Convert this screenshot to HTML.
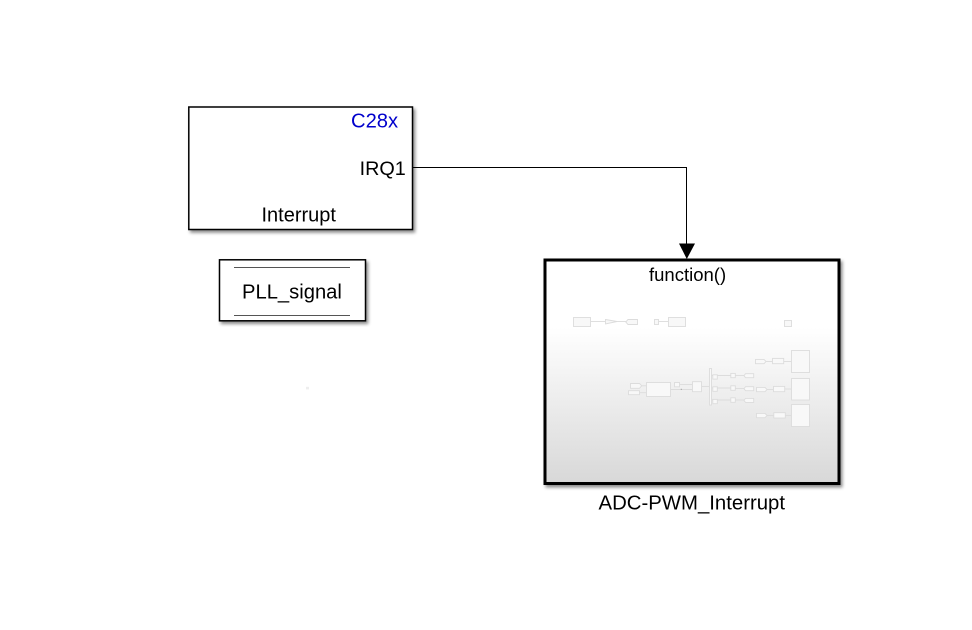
<!DOCTYPE html>
<html><head><meta charset="utf-8"><style>
html,body{margin:0;padding:0;background:#fff}
svg{display:block}
text{font-family:"Liberation Sans",Arial,sans-serif;fill:#000}
text.blue{fill:#0000cc}
.m rect,.m path,.m line{fill:#f8f8f8;stroke:#dcdcdc;stroke-width:.9}
.m line{fill:none}
</style></head><body>
<svg width="972" height="630" viewBox="0 0 972 630" xmlns="http://www.w3.org/2000/svg">
<defs>
<linearGradient id="g" x1="0" y1="0" x2="0" y2="1">
<stop offset="0" stop-color="#fff"/><stop offset=".3" stop-color="#fff"/><stop offset="1" stop-color="#d8d8d8"/>
</linearGradient>
<filter id="s" x="-5%" y="-5%" width="112%" height="115%"><feDropShadow dx="2" dy="2.5" stdDeviation="1.5" flood-color="#000" flood-opacity=".45"/></filter>
</defs>
<rect width="972" height="630" fill="#fff"/>

<rect x="188.8" y="107" width="223.7" height="122.5" fill="#fff" stroke="#000" stroke-width="1.5" filter="url(#s)"/>
<text class="blue" x="351" y="127.5" font-size="20.2">C28x</text>
<text x="359.6" y="175" font-size="19.8">IRQ1</text>
<text x="261.5" y="221.7" font-size="20">Interrupt</text>

<rect x="219.5" y="259.8" width="146" height="61" fill="#fff" stroke="#000" stroke-width="1.5" filter="url(#s)"/>
<line x1="234" y1="267.5" x2="350" y2="267.5" stroke="#555" stroke-width="1"/>
<line x1="234" y1="315.5" x2="350" y2="315.5" stroke="#555" stroke-width="1"/>
<text x="242" y="298.3" font-size="20.2">PLL_signal</text>

<rect x="545" y="260" width="294" height="223.5" fill="url(#g)" stroke="#000" stroke-width="3" filter="url(#s)"/>
<path d="M412.5 167.5H686.5V244" fill="none" stroke="#000" stroke-width="1"/>
<path d="M679 243.5H695L686.8 259Z" fill="#000"/>
<text x="649" y="281" font-size="18.5">function()</text>
<text x="598.5" y="509.5" font-size="20.35">ADC-PWM_Interrupt</text>

<g class="m">
<line x1="590.7" y1="321.5" x2="605" y2="321.5"/><line x1="617" y1="321.5" x2="626" y2="321.5"/><line x1="658.7" y1="321.5" x2="668" y2="321.5"/>
<rect x="573.5" y="317.5" width="17" height="9"/>
<path d="M605.5 319.5L617 321.5L605.5 324Z"/>
<path d="M628 319.5H637.5V324.5H628L625.8 322Z"/>
<rect x="654.5" y="319.5" width="4" height="5"/>
<rect x="668.5" y="317.5" width="17" height="9"/>
<rect x="784.5" y="320.5" width="7" height="6"/>

<line x1="641.7" y1="385.8" x2="646.5" y2="385.8"/><line x1="639.7" y1="392.7" x2="646.5" y2="392.7"/>
<line x1="670.3" y1="389.5" x2="692.5" y2="389.5"/><line x1="679.3" y1="384.5" x2="692.5" y2="384.5"/>
<line x1="701.3" y1="386.5" x2="709.5" y2="386.5"/>
<path d="M630.5 383.5H639.5L641.7 385.8L639.5 388.3H630.5Z"/>
<rect x="628.5" y="390.7" width="11" height="4"/>
<rect x="646.5" y="382.5" width="24" height="14"/>
<rect x="674.5" y="382.5" width="5" height="4.3"/>
<rect x="692.5" y="381.7" width="9" height="10"/>
<rect x="709.5" y="368.5" width="2" height="36.5"/>

<line x1="711.3" y1="375.5" x2="730.7" y2="375.5"/><line x1="711.3" y1="388" x2="730.7" y2="388"/><line x1="711.3" y1="400" x2="730.7" y2="400"/>
<line x1="735.3" y1="375.5" x2="744" y2="375.5"/><line x1="735.3" y1="388.5" x2="744" y2="388.5"/><line x1="735.3" y1="400" x2="744" y2="400"/>
<rect x="712.8" y="374.8" width="4.5" height="4.3"/><rect x="712.8" y="386.8" width="4.5" height="4.5"/><rect x="712.8" y="399.4" width="4.5" height="4.3"/>
<rect x="730.8" y="373.4" width="4.5" height="4.3"/><rect x="730.8" y="385.8" width="4.5" height="4.5"/><rect x="730.8" y="397.8" width="4.5" height="4.5"/>
<path d="M745.5 373.7H753.7V377.7H745.5L744 375.7Z"/><path d="M745.5 386.7H753.7V390.7H745.5L744 388.7Z"/><path d="M745.5 398.4H753.7V402.4H745.5L744 400.4Z"/>

<line x1="766" y1="361.5" x2="772.5" y2="361.5"/><line x1="767" y1="389.5" x2="773.5" y2="389.5"/><line x1="767" y1="415.5" x2="773.7" y2="415.5"/>
<line x1="783.7" y1="361.5" x2="791.5" y2="361.5"/><line x1="784.7" y1="389" x2="791.5" y2="389"/><line x1="785.3" y1="415.5" x2="791.5" y2="415.5"/>
<path d="M755.5 359.4H764L766 361.5L764 363.7H755.5Z"/><path d="M756.5 387.4H765L767 389.5L765 391.7H756.5Z"/><path d="M756.5 413.4H765L767 415.5L765 417.7H756.5Z"/>
<rect x="772.5" y="358.4" width="11.2" height="5.3"/><rect x="773.5" y="386.4" width="11.2" height="5.3"/><rect x="773.8" y="412.7" width="11.5" height="5.3"/>
<rect x="791.5" y="350.5" width="18" height="22"/><rect x="791.5" y="378.5" width="18" height="21.5"/><rect x="791.5" y="404.5" width="18" height="22"/>
</g>
<rect x="680.8" y="388.8" width="1" height="1" fill="#999"/>
<rect x="306" y="386.8" width="3" height="2.6" fill="#eee"/>
</svg>
</body></html>
